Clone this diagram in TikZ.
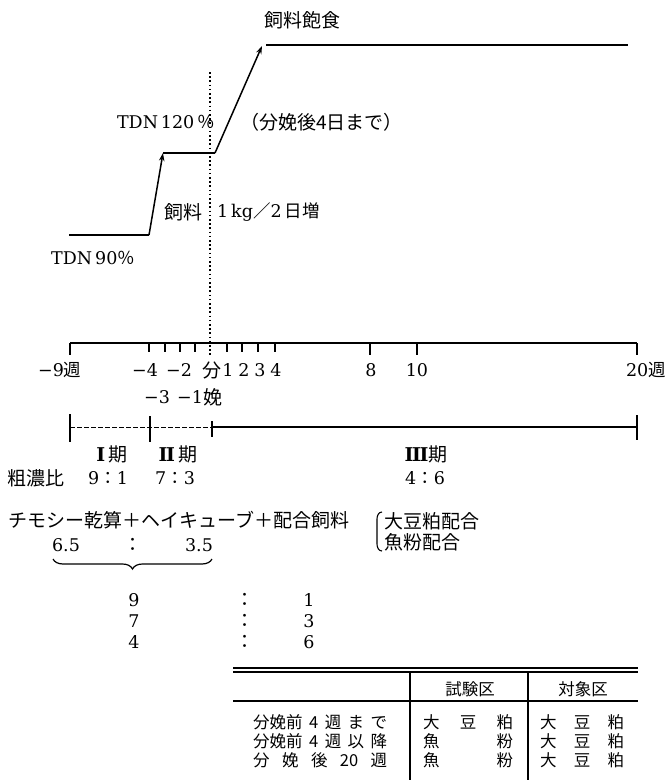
\documentclass[tikz,border=0pt]{standalone}
\usepackage{fontspec}
\setmainfont{DejaVu Serif}
\newfontfamily\cjk{Noto Sans CJK JP}
\usetikzlibrary{decorations.pathreplacing,arrows.meta,calc}
\newcommand{\rI}{\textbf{I}}
\newcommand{\rII}{\textbf{I\kern-1.4ptI}}
\newcommand{\rIII}{\textbf{I\kern-1.4ptI\kern-1.4ptI}}
\begin{document}
\begin{tikzpicture}[x=1pt,y=-1pt,
  lab/.style={inner sep=0pt, font=\fontsize{17.5}{20}\selectfont},
  rlab/.style={inner sep=0pt, font=\fontsize{19}{21}\selectfont},
  jlab/.style={inner sep=0pt, font=\cjk\fontsize{19}{21}\selectfont},
  tlab/.style={inner sep=0pt, font=\cjk\fontsize{16.5}{18}\selectfont},
  feed/.style={line width=1.5pt},
  axisline/.style={line width=1.7pt},
  tickline/.style={line width=1.3pt},
  arr/.style={-{Stealth[length=8pt,width=5.5pt]}},
  rule/.style={line width=1.1pt}
]
\useasboundingbox (0,0) rectangle (666,780);

% ---- feed curve ----
\coordinate (f0) at (69,235);
\coordinate (f1) at (149,235);
\coordinate (f2) at (163,153);
\coordinate (f3) at (215,153);
\coordinate (f4) at (262,46);
\coordinate (f5) at (266,45);
\coordinate (f6) at (628,45);
\draw[feed] (f0) -- (f1);
\draw[feed,arr] (f1) -- (f2);
\draw[feed] (f2) -- (f3);
\draw[feed,arr] (f3) -- (f4);
\draw[feed] (f5) -- (f6);

% dotted parturition line
\coordinate (d0) at (210,72);
\coordinate (d1) at (210,356);
\draw[line width=1.5pt, dash pattern=on 1.6pt off 2.6pt] (d0) -- (d1);

\node[jlab] (sat) at (302,20) {飼料飽食};
\node[lab, anchor=east] (t120) at (215,122) {TDN\,120\,{\cjk ％}};
\node[jlab, anchor=west] (till) at (240,122) {（分娩後4日まで）};
\node[jlab, anchor=east] (feedw) at (203,212) {飼料};
\node[lab, anchor=west] (inc) at (217,212) {1\,kg{\cjk ／}2\,{\cjk 日増}};
\node[lab, anchor=west] (t90) at (51,258) {TDN\,90{\cjk ％}};

% ---- week axis ----
\foreach \n/\x in {m9/70, m4/149, m3/165, m2/180, m1/195, p1/227, p2/242, p3/258, p4/275, p8/370, p10/417, p20/637}
  {\coordinate (t\n) at (\x,343);}
\draw[axisline] (tm9) -- (tp20);
\foreach \n in {m4,m3,m2,m1,p1,p2,p3,p4}
  {\draw[tickline] (t\n) -- ++(0,9);}
\foreach \n in {m9,p8,p10,p20}
  {\draw[tickline] (t\n) -- ++(0,12);}

\node[lab, anchor=west] (lm9) at (38,370) {−9{\cjk 週}};
\node[lab] (lm4) at (145,370) {−4};
\node[lab] (lm2) at (179,370) {−2};
\node[jlab] (lbun) at (212,370) {分};
\node[lab] (lp1) at (228,370) {1};
\node[lab] (lp2) at (244,370) {2};
\node[lab] (lp3) at (260,370) {3};
\node[lab] (lp4) at (276,370) {4};
\node[lab] (lp8) at (371,370) {8};
\node[lab] (lp10) at (417,370) {10};
\node[lab, anchor=east] (lp20) at (666,370) {20{\cjk 週}};
\node[lab] (lm3) at (157,397) {−3};
\node[lab] (lm1) at (190,397) {−1};
\node[jlab] (lben) at (213,397) {娩};

% ---- periods ----
\coordinate (q0) at (70,427);
\coordinate (q1) at (150,427);
\coordinate (q2) at (212,427);
\coordinate (q3) at (637,427);
\draw[line width=0.8pt, dash pattern=on 5pt off 2pt] (q0) -- (q2);
\draw[feed] (q2) -- (q3);
\draw[tickline] ($(q0)+(0,-13)$) -- ($(q0)+(0,15)$);
\draw[tickline] ($(q1)+(0,-11)$) -- ($(q1)+(0,15)$);
\draw[tickline] ($(q2)+(0,-6)$) -- ($(q2)+(0,10)$);
\draw[tickline] ($(q3)+(0,-12)$) -- ($(q3)+(0,13)$);

\node[rlab] (p1) at (112,454) {\rI\,{\cjk 期}};
\node[rlab] (p2) at (178,454) {\rII\,{\cjk 期}};
\node[rlab] (p3) at (426,454) {\rIII{\cjk 期}};
\node[jlab] (rat) at (36,478) {粗濃比};
\node[lab] (r1) at (108,478) {9{\cjk ：}1};
\node[lab] (r2) at (175,478) {7{\cjk ：}3};
\node[lab] (r3) at (425,478) {4{\cjk ：}6};

% ---- composition ----
\node[jlab, anchor=west] (mix) at (8,520) {チモシー乾算＋ヘイキューブ＋配合飼料};
\node[lab] (v65) at (66,545) {6.5};
\node[jlab] (vc) at (133,545) {：};
\node[lab] (v35) at (199,545) {3.5};
\coordinate (b0) at (53,559);
\coordinate (b1) at (212,559);
\draw[line width=1.2pt, decorate, decoration={brace, mirror, amplitude=10pt, aspect=0.5}] (b0) -- (b1);

\coordinate (k0) at (382,512);
\coordinate (k1) at (382,551);
\draw[line width=1.1pt] (k0) to[out=180,in=90] (377,519) -- (377,544) to[out=-90,in=180] (k1);
\node[jlab, anchor=west] (soy) at (384,521) {大豆粕配合};
\node[jlab, anchor=west] (fish) at (384,542) {魚粉配合};

\node[lab] (n9) at (134,600) {9};
\node[jlab] (c9) at (245,600) {：};
\node[lab] (n1) at (309,600) {1};
\node[lab] (n7) at (134,621) {7};
\node[jlab] (c7) at (245,621) {：};
\node[lab] (n3) at (309,621) {3};
\node[lab] (n4) at (134,642) {4};
\node[jlab] (c4) at (245,642) {：};
\node[lab] (n6) at (309,642) {6};

% ---- table ----
\coordinate (r0a) at (233,668);
\coordinate (r0b) at (638,668);
\coordinate (r1a) at (233,672);
\coordinate (r1b) at (638,672);
\coordinate (r2a) at (233,701);
\coordinate (r2b) at (638,701);
\coordinate (v1a) at (410,672);
\coordinate (v1b) at (410,780);
\coordinate (v2a) at (528,672);
\coordinate (v2b) at (528,780);
\draw[rule] (r0a) -- (r0b);
\draw[rule] (r1a) -- (r1b);
\draw[rule] (r2a) -- (r2b);
\draw[rule] (v1a) -- (v1b);
\draw[rule] (v2a) -- (v2b);

\node[tlab] (h1) at (470,689) {試験区};
\node[tlab] (h2) at (583,689) {対象区};

\node[tlab, anchor=west] (a1) at (253,722) {\makebox[134pt][s]{分娩前\hfill 4\hfill 週\hfill ま\hfill で}};
\node[tlab, anchor=west] (a2) at (253,741) {\makebox[134pt][s]{分娩前\hfill 4\hfill 週\hfill 以\hfill 降}};
\node[tlab, anchor=west] (a3) at (253,760) {\makebox[134pt][s]{分\hfill 娩\hfill 後\hfill 20\hfill 週}};
\node[tlab, anchor=west] (b1t) at (423,722) {\makebox[90pt][s]{大\hfill 豆\hfill 粕}};
\node[tlab, anchor=west] (b2t) at (423,741) {\makebox[90pt][s]{魚\hfill 粉}};
\node[tlab, anchor=west] (b3t) at (423,760) {\makebox[90pt][s]{魚\hfill 粉}};
\node[tlab, anchor=west] (c1t) at (540,722) {\makebox[84pt][s]{大\hfill 豆\hfill 粕}};
\node[tlab, anchor=west] (c2t) at (540,741) {\makebox[84pt][s]{大\hfill 豆\hfill 粕}};
\node[tlab, anchor=west] (c3t) at (540,760) {\makebox[84pt][s]{大\hfill 豆\hfill 粕}};
\end{tikzpicture}
\end{document}
